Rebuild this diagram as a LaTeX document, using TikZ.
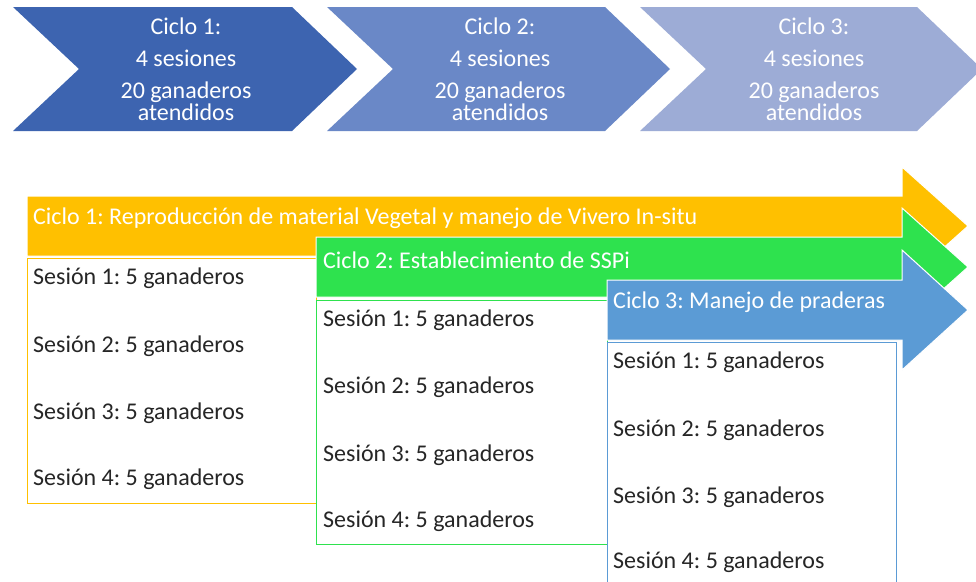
\documentclass[tikz,border=0pt]{standalone}
\usepackage{fontspec}
\setmainfont{Carlito}
\usetikzlibrary{positioning}
\frenchspacing

\definecolor{azulA}{RGB}{61,100,176}
\definecolor{azulB}{RGB}{106,136,199}
\definecolor{azulC}{RGB}{157,172,214}
\definecolor{naranja}{RGB}{255,192,0}
\definecolor{verde}{RGB}{46,226,78}
\definecolor{azul}{RGB}{91,155,213}
\definecolor{texto}{RGB}{38,38,38}

\begin{document}
\begin{tikzpicture}[
        x=1pt, y=-1pt,
        every node/.style={font=\fontsize{24}{22}\selectfont},
        ciclo/.style={text=white, align=center},
        titulo/.style={text=white, anchor=west, inner sep=0pt},
        caja/.style={draw, fill=white, line width=1pt, anchor=north west, inner sep=0pt},
        sesion/.style={text=texto, anchor=west, inner sep=0pt},
        flecha/.style={draw=white, line width=1pt}
    ]
    \clip (0,0) rectangle (976,581);
    \fill[white] (0,0) rectangle (976,581);

    % ciclos (arriba)
    \fill[azulA] (13,7) -- (292,7) -- (357,69) -- (292,131) -- (13,131) -- (79,69) -- cycle;
    \fill[azulB] (327,7) -- (605,7) -- (670,69) -- (605,131) -- (327,131) -- (393,69) -- cycle;
    \fill[azulC] (640,7) -- (917,7) -- (982,69) -- (917,131) -- (640,131) -- (706,69) -- cycle;

    \node[ciclo] (ciclo1) at (186,69) {Ciclo 1:\\[10pt]4 sesiones\\[10pt]20 ganaderos\\atendidos};
    \node[ciclo] (ciclo2) at (500,69) {Ciclo 2:\\[10pt]4 sesiones\\[10pt]20 ganaderos\\atendidos};
    \node[ciclo] (ciclo3) at (814,69) {Ciclo 3:\\[10pt]4 sesiones\\[10pt]20 ganaderos\\atendidos};

    % ciclo 1
    \filldraw[flecha, fill=naranja] (27,196) -- (902,196) -- (902,167) -- (968,226) -- (902,285) -- (902,256) -- (27,256) -- cycle;
    \node[titulo] (tit1) at (33,218) {Ciclo 1: Reproducción de material Vegetal y manejo de Vivero In-situ};
    \node[caja, draw=naranja, minimum width=289, minimum height=245] (caja1) at (27,258) {};
    \node[sesion] (s11) at (33,278) {Sesión 1: 5 ganaderos};
    \node[sesion] (s12) at (33,346) {Sesión 2: 5 ganaderos};
    \node[sesion] (s13) at (33,413) {Sesión 3: 5 ganaderos};
    \node[sesion] (s14) at (33,479) {Sesión 4: 5 ganaderos};

    % ciclo 2
    \filldraw[flecha, fill=verde] (316,237) -- (902,237) -- (902,208) -- (968,267) -- (902,326) -- (902,297) -- (316,297) -- cycle;
    \node[titulo] (tit2) at (323,260) {Ciclo 2: Establecimiento de SSPi};
    \node[caja, draw=verde, minimum width=291, minimum height=244] (caja2) at (316,300) {};
    \node[sesion] (s21) at (323,320) {Sesión 1: 5 ganaderos};
    \node[sesion] (s22) at (323,387) {Sesión 2: 5 ganaderos};
    \node[sesion] (s23) at (323,455) {Sesión 3: 5 ganaderos};
    \node[sesion] (s24) at (323,521) {Sesión 4: 5 ganaderos};

    % ciclo 3
    \filldraw[flecha, fill=azul] (607,280) -- (902,280) -- (902,250) -- (968,310) -- (902,370) -- (902,340) -- (607,340) -- cycle;
    \node[titulo] (tit3) at (613,302) {Ciclo 3: Manejo de praderas};
    \node[caja, draw=azul, minimum width=289, minimum height=260] (caja3) at (607,342) {};
    \node[sesion] (s31) at (613,362) {Sesión 1: 5 ganaderos};
    \node[sesion] (s32) at (613,430) {Sesión 2: 5 ganaderos};
    \node[sesion] (s33) at (613,497) {Sesión 3: 5 ganaderos};
    \node[sesion] (s34) at (613,562) {Sesión 4: 5 ganaderos};

\end{tikzpicture}
\end{document}
